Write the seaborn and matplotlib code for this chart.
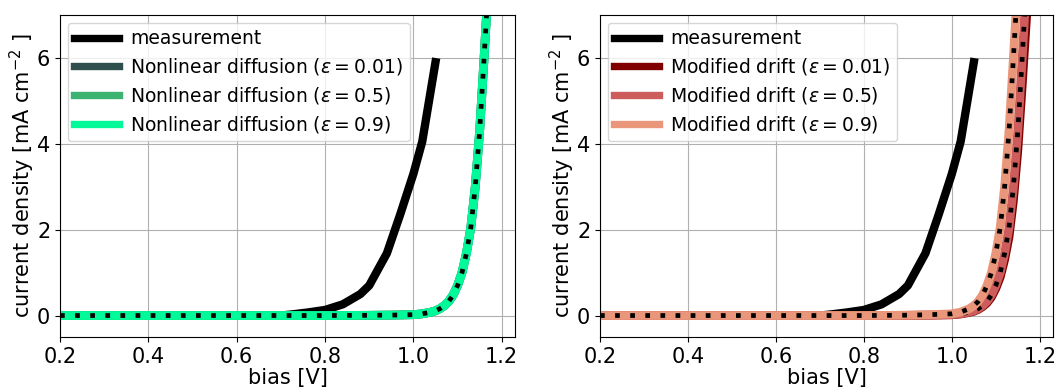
import numpy as np
import pandas as pd
import matplotlib
matplotlib.use("Agg")
import matplotlib.pyplot as plt
import seaborn as sns

# Measurement data
meas_v = [0.2, 0.3, 0.4, 0.5, 0.6, 0.7, 0.72, 0.76, 0.80, 0.84, 0.88, 0.90, 0.94, 0.97, 1.00, 1.02, 1.05]
meas_j = [0.0, 0.0, 0.0, 0.0, 0.0, 0.0, 0.02, 0.07, 0.13, 0.26, 0.50, 0.70, 1.45, 2.35, 3.30, 4.05, 5.90]

# Simulation voltage grid
sim_v = [0.2, 0.3, 0.4, 0.5, 0.6, 0.7, 0.8, 0.9, 0.95, 1.00, 1.02, 1.04, 1.05, 1.06, 1.07,
         1.08, 1.09, 1.10, 1.11, 1.12, 1.13, 1.14, 1.15, 1.16, 1.17, 1.18]

# Nonlinear diffusion (all eps nearly identical)
nld_001 = [0, 0, 0, 0, 0, 0, 0, 0.005, 0.01, 0.02, 0.04, 0.08, 0.11, 0.16, 0.23,
           0.33, 0.48, 0.70, 1.00, 1.45, 2.05, 3.00, 4.30, 6.00, 7.80, 11.0]
nld_05 = [0, 0, 0, 0, 0, 0, 0, 0.005, 0.01, 0.02, 0.04, 0.08, 0.11, 0.16, 0.23,
          0.33, 0.48, 0.70, 1.00, 1.45, 2.05, 3.00, 4.30, 6.00, 7.80, 11.0]
nld_09 = [0, 0, 0, 0, 0, 0, 0, 0.005, 0.01, 0.02, 0.04, 0.08, 0.11, 0.16, 0.23,
          0.33, 0.48, 0.70, 1.00, 1.45, 2.05, 3.00, 4.30, 6.00, 7.80, 11.0]

# Modified drift
md_001 = [0, 0, 0, 0, 0, 0, 0, 0.004, 0.009, 0.018, 0.036, 0.072, 0.098, 0.143, 0.206,
          0.295, 0.43, 0.63, 0.895, 1.30, 1.83, 2.68, 3.85, 5.37, 6.98, 9.85]
md_05 = [0, 0, 0, 0, 0, 0, 0, 0.005, 0.01, 0.02, 0.04, 0.08, 0.11, 0.16, 0.23,
         0.33, 0.48, 0.70, 1.00, 1.45, 2.05, 3.00, 4.30, 6.00, 7.80, 11.0]
md_09 = [0, 0, 0, 0, 0, 0, 0, 0.008, 0.02, 0.04, 0.08, 0.16, 0.23, 0.33, 0.48,
         0.70, 1.00, 1.45, 2.05, 3.00, 4.30, 6.00, 7.80, 11.0, 14.0, 18.0]

eps_labels = ["0.01", "0.5", "0.9"]
nld_colors = ["#2F4F4F", "#3CB371", "#00FA9A"]
md_colors = ["#800000", "#CD5C5C", "#E9967A"]

plt.rcParams["font.family"] = ["DejaVu Sans"]
plt.rcParams["mathtext.fontset"] = "dejavusans"

fig = plt.figure(figsize=(10.6, 3.9), dpi=100)
W, H = 1060, 390
ax1 = fig.add_axes([60 / W, (H - 337) / H, 455 / W, 322 / H])
ax2 = fig.add_axes([600 / W, (H - 337) / H, 453 / W, 322 / H])

LW = 6.3
DOT = dict(color="black", lw=3.4, linestyle=(0, (1.0, 2.2)))

def panel(ax, series, colors, name):
    sns.lineplot(x=meas_v, y=meas_j, ax=ax, color="black", lw=6.0, label="measurement")
    for ys, c, e in zip(series, colors, eps_labels):
        sns.lineplot(x=sim_v, y=ys, ax=ax, color=c, lw=LW,
                     label=name + r" ($\varepsilon = " + e + "$)")
        sns.lineplot(x=sim_v, y=ys, ax=ax, label="_nolegend_", **DOT)
    ax.set_xlim(0.2, 1.23)
    ax.set_ylim(-0.5, 7)
    ax.set_xticks([0.2, 0.4, 0.6, 0.8, 1.0, 1.2])
    ax.set_yticks([0, 2, 4, 6])
    ax.grid(True, color="#b0b0b0", lw=0.8)
    ax.set_axisbelow(True)
    ax.tick_params(labelsize=15)
    ax.set_xlabel("bias [V]", fontsize=15, labelpad=1)
    ax.set_ylabel(r"current density [mA cm$^{-2}$ ]", fontsize=15, labelpad=0)
    for s in ax.spines.values():
        s.set_color("black")
    leg = ax.legend(loc="upper left", fontsize=13.5, handlelength=2.4, handletextpad=0.6,
                    borderpad=0.35, labelspacing=0.42, borderaxespad=0.4)
    for ln in leg.get_lines():
        ln.set_linewidth(5.3)

panel(ax1, [nld_001, nld_05, nld_09], nld_colors, "Nonlinear diffusion")
panel(ax2, [md_001, md_05, md_09], md_colors, "Modified drift")

fig.savefig("out.png", dpi=100)
